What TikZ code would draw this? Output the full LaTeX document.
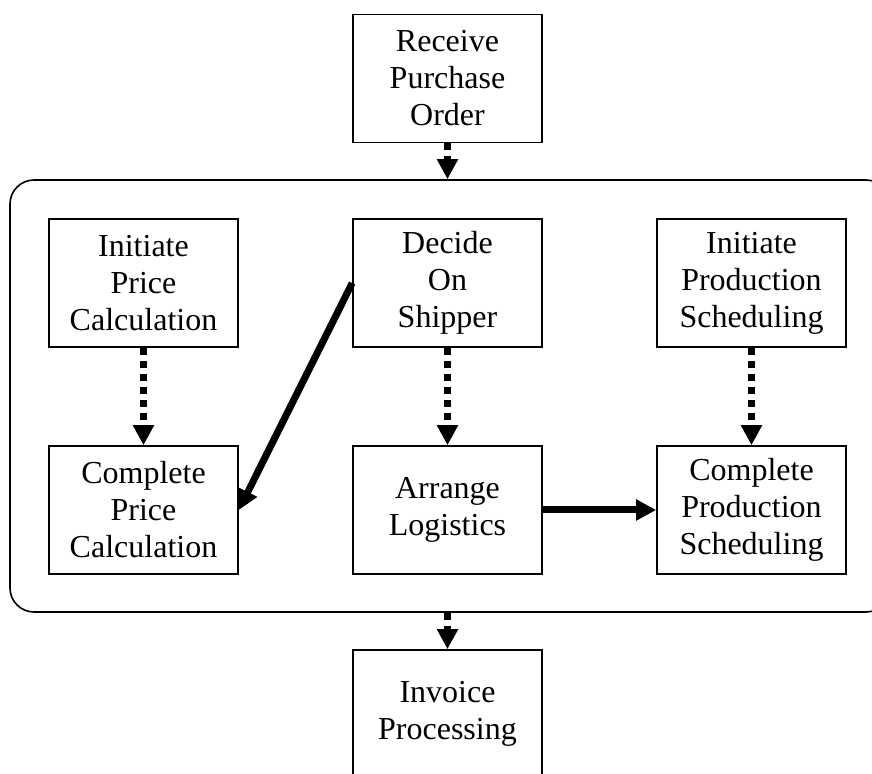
\documentclass[tikz,border=0pt]{standalone}
\usepackage{fontspec}
\setmainfont{Liberation Serif}
\usetikzlibrary{arrows.meta}

\begin{document}
\begin{tikzpicture}[x=0.5pt,y=-0.5pt,
	every node/.style={align=center,font=\fontsize{16}{18.5}\selectfont},
	tache/.style={draw,line width=.8pt,minimum width=94.5pt,minimum height=64pt,inner sep=0pt},
	pointille/.style={-{Triangle[length=10pt,width=10pt]},line width=3.5pt,dash pattern=on 3.5pt off 3pt},
	plein/.style={-{Triangle[length=10pt,width=10pt]},line width=3.5pt}]
	\useasboundingbox (0,0) rectangle (872,774);
	% le cadre arrondi
	\node[draw,line width=.8pt,rounded corners=12pt,minimum width=440pt,minimum height=216pt] (bloc) at (450,396) {};
	\node[tache] (recevoir) at (447.5,78.5) {Receive\\ Purchase\\ Order};
	\node[tache] (iprix) at (143.5,283) {Initiate\\ Price\\ Calculation};
	\node[tache] (transporteur) at (447.5,283) {Decide\\ On\\ Shipper};
	\node[tache] (iprod) at (751.5,283) {Initiate\\ Production\\ Scheduling};
	\node[tache] (cprix) at (143.5,510) {Complete\\ Price\\ Calculation};
	\node[tache] (logistique) at (447.5,510) {Arrange\\ Logistics};
	\node[tache] (cprod) at (751.5,510) {Complete\\ Production\\ Scheduling};
	\node[tache] (facture) at (447.5,714) {Invoice\\ Processing};
	% liens
	\draw[pointille] (recevoir.south) -- (recevoir.south |- bloc.north);
	\draw[pointille] (iprix) -- (cprix);
	\draw[pointille] (transporteur) -- (logistique);
	\draw[pointille] (iprod) -- (cprod);
	\draw[plein] (transporteur.west) -- (cprix.east);
	\draw[plein] (logistique) -- (cprod);
	\draw[pointille] (bloc.south -| facture.north) -- (facture.north);
\end{tikzpicture}
\end{document}
